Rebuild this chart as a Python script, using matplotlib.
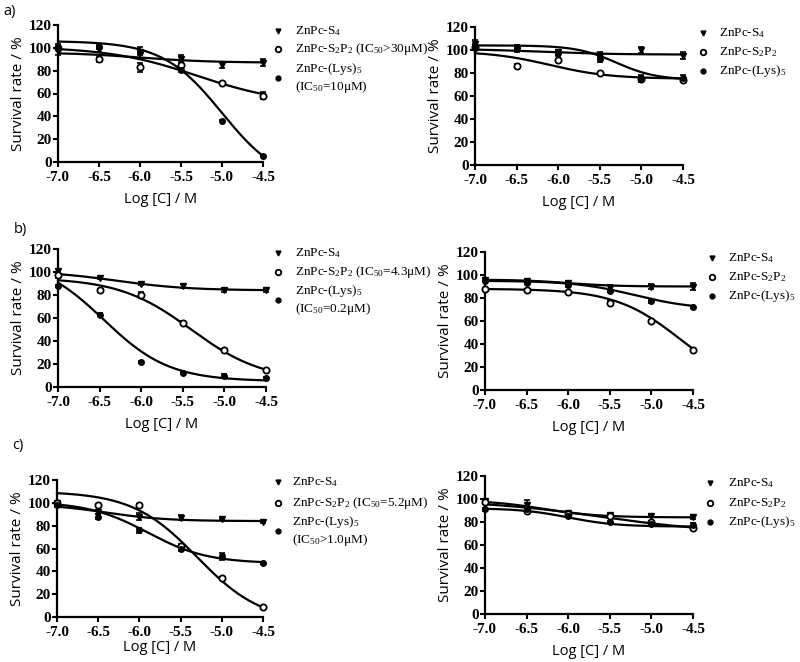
import numpy as np
import matplotlib
matplotlib.use("Agg")
import matplotlib.pyplot as plt
import matplotlib.transforms as mtransforms

plt.rcParams['mathtext.fontset'] = 'custom'
plt.rcParams['mathtext.rm'] = 'Liberation Serif'
plt.rcParams['mathtext.it'] = 'Liberation Serif:italic'
plt.rcParams['mathtext.bf'] = 'Liberation Serif:bold'

# ---------------- data ----------------
log_conc = [-7.0, -6.5, -6.0, -5.5, -5.0, -4.5]
x_ticks = [-7.0, -6.5, -6.0, -5.5, -5.0, -4.5]
y_ticks = [0, 20, 40, 60, 80, 100, 120]

series_names = ['ZnPc-S4', 'ZnPc-S2P2', 'ZnPc-(Lys)5']

# panel a (left)
a1_s4 = [97, 99, 96, 90, 85, 87]
a1_s4_err = [3, 3, 5, 4, 3, 3]
a1_s2p2 = [100, 90, 83, 85, 69, 58]
a1_s2p2_err = [2, 2, 4, 3, 1, 3]
a1_lys = [101, 101, 96, 81, 36, 5]
a1_lys_err = [2, 2, 2, 2, 1, 1]
# fitted curve parameters: top, bottom, logIC50, hill
a1_fit_s4 = [96, 87, -6.0, 1.0]
a1_fit_s2p2 = [101, 50, -5.3, 0.8]
a1_fit_lys = [106, -20, -5.0, 1.2]

# panel a (right)
a2_s4 = [105, 101, 98, 95, 100, 95]
a2_s4_err = [4, 3, 2, 3, 3, 3]
a2_s2p2 = [103, 86, 91, 80, 75, 74]
a2_s2p2_err = [2, 2, 1, 1, 2, 1]
a2_lys = [102, 102, 97, 92, 75, 76]
a2_lys_err = [2, 2, 2, 2, 3, 2]
a2_fit_s4 = [101, 96, -6.2, 1.0]
a2_fit_s2p2 = [99, 75, -6.1, 1.2]
a2_fit_lys = [104, 74, -5.3, 1.8]

# panel b (left)
b1_s4 = [101, 95, 90, 88, 84, 84]
b1_s4_err = [2, 1, 1, 2, 1, 1]
b1_s2p2 = [97, 84, 80, 56, 32, 15]
b1_s2p2_err = [2, 1, 3, 1, 1, 1]
b1_lys = [88, 63, 22, 12, 10, 8]
b1_lys_err = [1, 1, 1, 1, 1, 1]
b1_fit_s4 = [101, 84, -6.3, 1.0]
b1_fit_s2p2 = [95, 5, -5.4, 1.0]
b1_fit_lys = [112, 5, -6.45, 1.1]

# panel b (right)
b2_s4 = [96, 95, 93, 89, 90, 90]
b2_s4_err = [1, 1, 2, 2, 2, 3]
b2_s2p2 = [88, 87, 85, 76, 60, 35]
b2_s2p2_err = [1, 1, 1, 1, 1, 1]
b2_lys = [95, 93, 91, 86, 77, 72]
b2_lys_err = [1, 1, 1, 1, 1, 1]
b2_fit_s4 = [96, 90, -6.0, 1.5]
b2_fit_s2p2 = [88, 0, -4.65, 1.1]
b2_fit_lys = [95, 70, -5.2, 1.2]

# panel c (left)
c1_s4 = [100, 92, 88, 87, 86, 83]
c1_s4_err = [2, 2, 3, 2, 1, 1]
c1_s2p2 = [100, 98, 98, 62, 34, 9]
c1_s2p2_err = [1, 1, 1, 2, 1, 1]
c1_lys = [98, 88, 76, 60, 53, 47]
c1_lys_err = [2, 2, 2, 2, 3, 1]
c1_fit_s4 = [99, 84, -6.4, 1.2]
c1_fit_s2p2 = [110, -5, -5.3, 1.1]
c1_fit_lys = [101, 47, -5.9, 1.2]

# panel c (right)
c2_s4 = [98, 95, 88, 86, 85, 84]
c2_s4_err = [1, 4, 1, 1, 1, 1]
c2_s2p2 = [97, 90, 87, 85, 80, 75]
c2_s2p2_err = [1, 1, 1, 1, 1, 1]
c2_lys = [91, 91, 85, 80, 78, 77]
c2_lys_err = [1, 1, 1, 1, 1, 2]
c2_fit_s4 = [99, 84, -6.3, 1.3]
c2_fit_s2p2 = [99, 70, -5.6, 0.6]
c2_fit_lys = [92, 76, -6.0, 1.5]

labels_right = ['ZnPc-S$_4$', 'ZnPc-S$_2$P$_2$', 'ZnPc-(Lys)$_5$']
labels_a = ['ZnPc-S$_4$', 'ZnPc-S$_2$P$_2$ (IC$_{50}$>30μM)',
            'ZnPc-(Lys)$_5$\n(IC$_{50}$=10μM)']
labels_b = ['ZnPc-S$_4$', 'ZnPc-S$_2$P$_2$ (IC$_{50}$=4.3μM)',
            'ZnPc-(Lys)$_5$\n(IC$_{50}$=0.2μM)']
labels_c = ['ZnPc-S$_4$', 'ZnPc-S$_2$P$_2$ (IC$_{50}$=5.2μM)',
            'ZnPc-(Lys)$_5$\n(IC$_{50}$>1.0μM)']

# ---------------- layout ----------------
W, H = 800, 662
fig = plt.figure(figsize=(W / 100, H / 100), dpi=100)


def px_axes(x0, x1, ytop, ybot):
    return fig.add_axes([x0 / W, (H - ybot) / H, (x1 - x0) / W, (ybot - ytop) / H])


def four_pl(x, p):
    top, bottom, c, h = p
    return bottom + (top - bottom) / (1 + 10 ** (h * (x - c)))


styles = [
    dict(marker='v', mfc='black', mec='black', ms=4.5, mew=1.0),
    dict(marker='o', mfc='white', mec='black', ms=4.5, mew=1.3),
    dict(marker='o', mfc='black', mec='black', ms=4.0, mew=1.0),
]
leg_styles = [
    dict(marker='v', mfc='black', mec='black', ms=3.5, mew=1.0),
    dict(marker='o', mfc='white', mec='black', ms=4.0, mew=1.3),
    dict(marker='o', mfc='black', mec='black', ms=3.5, mew=1.0),
]

serif = 'Liberation Serif'
sans = 'Open Sans'


def draw_panel(ax, data, errs, fits, labels, leg_dx, rows, xlabelpad):
    xs = np.array(log_conc)
    xx = np.linspace(min(log_conc), max(log_conc), 300)
    for vals, err, fit, st in zip(data, errs, fits, styles):
        ax.plot(xx, four_pl(xx, fit), color='black', lw=1.6, clip_on=False, zorder=2)
        ax.errorbar(xs, vals, yerr=err, fmt='none', ecolor='black', elinewidth=1.2,
                    capsize=2.2, capthick=1.2, clip_on=False, zorder=3)
        ax.plot(xs, vals, linestyle='none', clip_on=False, zorder=4, **st)
    ax.set_xlim(-7.0, -4.5)
    ax.set_ylim(0, 120)
    ax.set_xticks(x_ticks)
    ax.set_xticklabels(['%.1f' % t for t in x_ticks])
    ax.set_yticks(y_ticks)
    ax.set_yticklabels([str(t) for t in y_ticks])
    for s in ['top', 'right']:
        ax.spines[s].set_visible(False)
    for s in ['left', 'bottom']:
        ax.spines[s].set_linewidth(1.6)
    ax.tick_params(direction='out', length=3.5, width=1.5)
    ax.tick_params(axis='y', pad=1.0)
    ax.tick_params(axis='x', pad=3.0)
    for lab in ax.get_xticklabels() + ax.get_yticklabels():
        lab.set_fontfamily(serif)
        lab.set_fontweight('bold')
        lab.set_fontsize(11)
    ax.set_ylabel('Survival rate / %', fontfamily=sans, fontsize=11, labelpad=2)
    ax.set_xlabel('Log [C] / M', fontfamily=sans, fontsize=10.5, labelpad=xlabelpad)
    # legend (manual, markers + text)
    mdx, tdx = leg_dx
    for lab, st, dy in zip(labels, leg_styles, rows):
        tr = ax.transAxes + mtransforms.ScaledTranslation(mdx / 100, -dy / 100, fig.dpi_scale_trans)
        ax.plot([1.0], [1.0], transform=tr, clip_on=False, linestyle='none', **st)
        ax.annotate(lab, xy=(1, 1), xycoords='axes fraction', xytext=(tdx, -dy),
                    textcoords='offset pixels', ha='left', va='center',
                    fontfamily=serif, fontsize=9.5, linespacing=1.25)


ax_a1 = px_axes(58, 263, 25, 162)
ax_a2 = px_axes(475, 683, 27, 165)
ax_b1 = px_axes(58, 266, 249, 387)
ax_b2 = px_axes(485, 693, 252, 390)
ax_c1 = px_axes(57, 263, 480, 617)
ax_c2 = px_axes(485, 693, 476, 614)

draw_panel(ax_a1, [a1_s4, a1_s2p2, a1_lys], [a1_s4_err, a1_s2p2_err, a1_lys_err],
           [a1_fit_s4, a1_fit_s2p2, a1_fit_lys], labels_a, (15, 32), (6, 24, 53), 6)
draw_panel(ax_a2, [a2_s4, a2_s2p2, a2_lys], [a2_s4_err, a2_s2p2_err, a2_lys_err],
           [a2_fit_s4, a2_fit_s2p2, a2_fit_lys], labels_right, (20, 36), (6, 25, 44), 6)
draw_panel(ax_b1, [b1_s4, b1_s2p2, b1_lys], [b1_s4_err, b1_s2p2_err, b1_lys_err],
           [b1_fit_s4, b1_fit_s2p2, b1_fit_lys], labels_b, (12, 29), (4, 23, 51), 6)
draw_panel(ax_b2, [b2_s4, b2_s2p2, b2_lys], [b2_s4_err, b2_s2p2_err, b2_lys_err],
           [b2_fit_s4, b2_fit_s2p2, b2_fit_lys], labels_right, (19, 35), (6, 25, 44), 6)
draw_panel(ax_c1, [c1_s4, c1_s2p2, c1_lys], [c1_s4_err, c1_s2p2_err, c1_lys_err],
           [c1_fit_s4, c1_fit_s2p2, c1_fit_lys], labels_c, (15, 29), (2, 23, 51), 0.5)
draw_panel(ax_c2, [c2_s4, c2_s2p2, c2_lys], [c2_s4_err, c2_s2p2_err, c2_lys_err],
           [c2_fit_s4, c2_fit_s2p2, c2_fit_lys], labels_right, (17, 35), (7, 27, 46), 6)

fig.text(3 / W, 1 - 12 / H, 'a)', fontfamily=sans, fontsize=10.5, va='center', ha='left')
fig.text(14 / W, 1 - 229 / H, 'b)', fontfamily=sans, fontsize=10.5, va='center', ha='left')
fig.text(12 / W, 1 - 446 / H, 'c)', fontfamily=sans, fontsize=10.5, va='center', ha='left')

fig.savefig('out.png', dpi=100)
